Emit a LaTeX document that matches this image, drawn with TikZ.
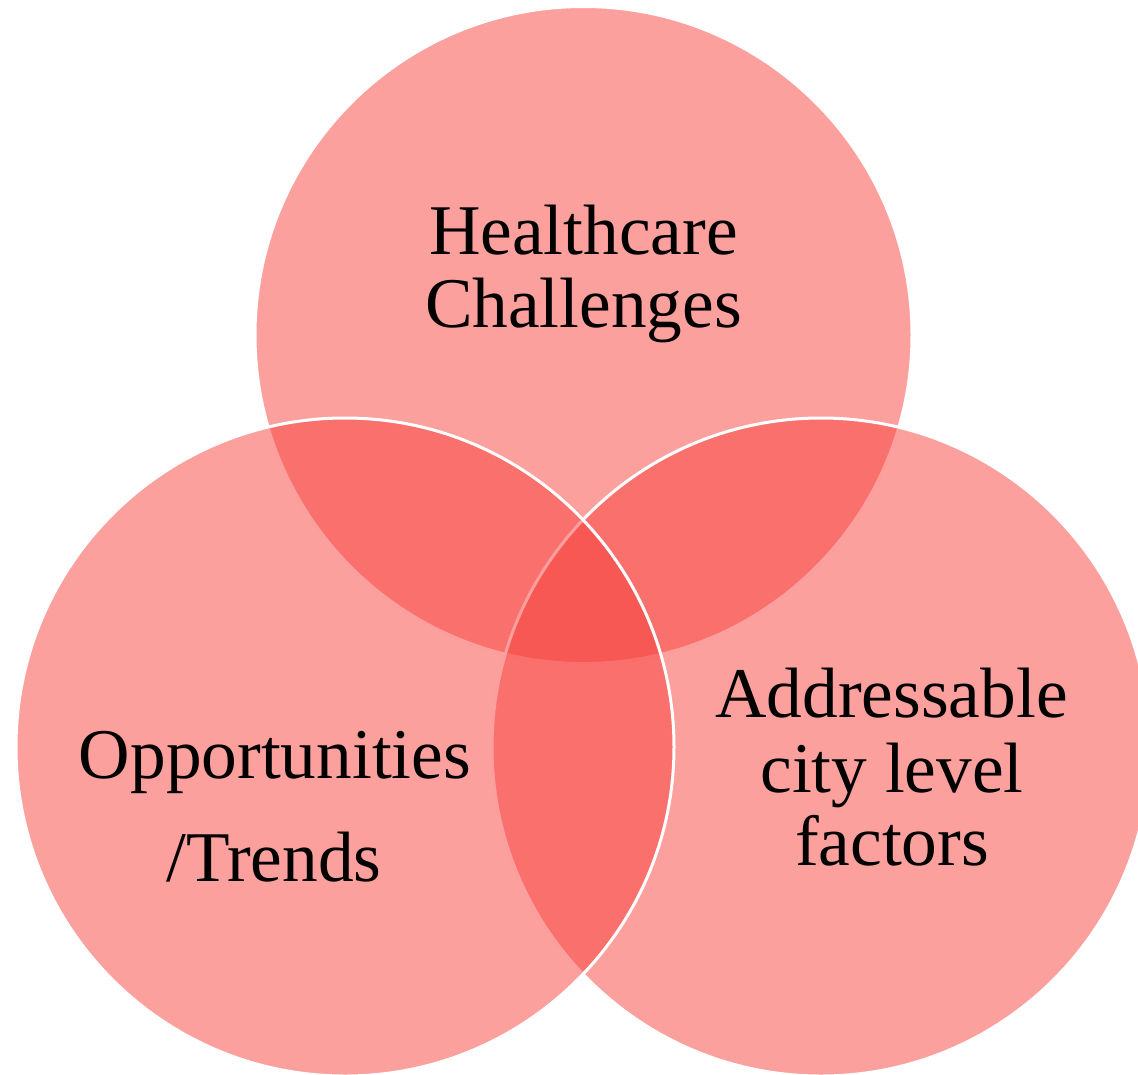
\documentclass[tikz,border=0pt]{standalone}
\usepackage{fontspec}
\setmainfont{Liberation Serif}
\definecolor{vennred}{RGB}{247,65,60}
\begin{document}
\begin{tikzpicture}[x=1pt,y=-1pt,
  venn/.style={fill=vennred, fill opacity=0.5, draw=white, line width=3pt},
  lbl/.style={font=\fontsize{71.3}{74}\selectfont, anchor=base, inner sep=0pt, text=black}]
\useasboundingbox (0,0) rectangle (1138,1074);
\clip (0,0) rectangle (1138,1074);
% circles: top, right, left (drawing order matters for white outlines)
\path[venn] (583.5,335) circle[radius=328.5pt];
\path[venn] (821,747) circle[radius=329pt];
\path[venn] (345,747) circle[radius=329pt];
% labels
\node[lbl] (hc1) at (583.5,254) {Healthcare};
\node[lbl] (hc2) at (583.5,327) {Challenges};
\node[lbl] (op1) at (275,778) {Opportunities};
\node[lbl] (op2) at (274,881) {/Trends};
\node[lbl] (ad1) at (891.5,717) {Addressable};
\node[lbl] (ad2) at (892,792) {city level};
\node[lbl] (ad3) at (892,865) {factors};
\end{tikzpicture}
\end{document}
